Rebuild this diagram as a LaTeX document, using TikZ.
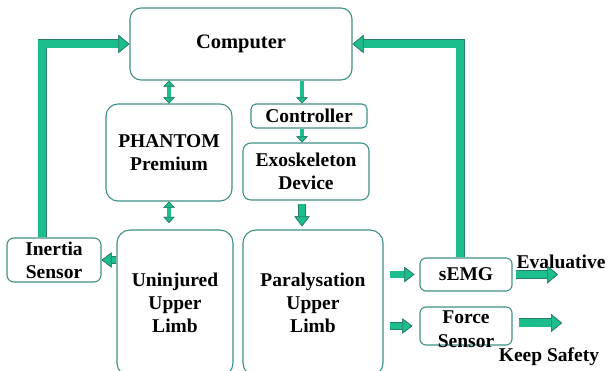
\documentclass[tikz,border=0pt]{standalone}
\usepackage{fontspec}
\setmainfont{Liberation Serif}
\usetikzlibrary{arrows.meta}

\definecolor{boxline}{HTML}{3F9086}
\definecolor{arrowfill}{HTML}{1DBE8E}
\definecolor{arrowline}{HTML}{2B7C6B}

\begin{document}
\begin{tikzpicture}[x=1pt, y=-1pt]
\tikzstyle{box}=[rectangle, draw=boxline, line width=1.1pt, rounded corners=8pt, align=center, inner sep=0pt, font=\fontsize{19.5}{23}\selectfont\bfseries]
\tikzstyle{txt}=[align=center, inner sep=0pt, font=\fontsize{19.5}{23}\selectfont\bfseries]
\tikzstyle{fat}=[line width=7.6pt, draw=arrowfill, -{Triangle[length=11pt, width=18pt, line width=.7pt, color=arrowline, fill=arrowfill]}, preaction={draw=arrowline, line width=9pt, -{Triangle[length=11pt, width=18pt, line width=.7pt]}}]
\tikzstyle{mid}=[line width=6.2pt, draw=arrowfill, -{Triangle[length=10pt, width=15pt, line width=.7pt, color=arrowline, fill=arrowfill]}, preaction={draw=arrowline, line width=7.6pt, -{Triangle[length=10pt, width=15pt, line width=.7pt]}}]
\tikzstyle{slim}=[line width=3.4pt, draw=arrowfill, -{Triangle[length=6pt, width=11pt, line width=.6pt, color=arrowline, fill=arrowfill]}, preaction={draw=arrowline, line width=4.6pt, -{Triangle[length=6pt, width=11pt, line width=.6pt]}}]
\tikzstyle{slimboth}=[line width=3.4pt, draw=arrowfill, {Triangle[length=6pt, width=11pt, line width=.6pt, color=arrowline, fill=arrowfill]}-{Triangle[length=6pt, width=11pt, line width=.6pt, color=arrowline, fill=arrowfill]}, preaction={draw=arrowline, line width=4.6pt, {Triangle[length=6pt, width=11pt, line width=.6pt]}-{Triangle[length=6pt, width=11pt, line width=.6pt]}}]

\useasboundingbox (0,0) rectangle (608,371);
\clip (0,0) rectangle (608,371);

% blocks
\node[box, minimum width=222pt, minimum height=72pt, rounded corners=11pt, font=\fontsize{20.5}{24}\selectfont\bfseries] (Comp) at (241,44) {Computer};
\node[box, minimum width=126pt, minimum height=97pt, rounded corners=12pt] (Phan) at (169,152.5) {PHANTOM\\Premium};
\node[box, minimum width=116pt, minimum height=24pt, rounded corners=5pt] (Ctrl) at (309,116) {Controller};
\node[box, minimum width=126pt, minimum height=57pt, rounded corners=8pt] (Exo) at (306,171.5) {Exoskeleton\\Device};
\node[box, minimum width=116pt, minimum height=146pt, rounded corners=13pt] (Unin) at (175,303) {Uninjured\\Upper\\Limb};
\node[box, minimum width=140pt, minimum height=146pt, rounded corners=13pt] (Para) at (313,303) {Paralysation\\Upper\\Limb};
\node[box, minimum width=94pt, minimum height=44pt, rounded corners=7pt] (Inertia) at (54,260) {Inertia\\Sensor};
\node[box, minimum width=92pt, minimum height=33pt, rounded corners=6pt] (sEMG) at (466,274.5) {sEMG};
\node[box, minimum width=92pt, minimum height=38pt, rounded corners=6pt] (Force) at (466,326) {};
\node[txt, font=\fontsize{19.5}{24}\selectfont\bfseries] (ForceTxt) at (466,329) {Force\\Sensor};
\node[txt] (Eval) at (561,262) {Evaluative};
\node[txt] (Keep) at (549,357) {Keep Safety};

% ends of the open arrows
\coordinate (CtrlIn) at ([xshift=-7pt]Ctrl.north);
\coordinate (LUp) at ([xshift=-12pt]Inertia.north);
\coordinate (RUp) at ([xshift=-6pt]sEMG.north);
\coordinate (PhanDown) at (169,223);
\coordinate (EvalEnd) at (558,274.5);
\coordinate (KeepEnd) at (562,323);

% links
\draw[slimboth] (Phan.north |- Comp.south) -- (Phan.north);
\draw[slimboth] (Phan.south) -- (PhanDown);
\draw[slim] (CtrlIn |- Comp.south) -- (CtrlIn);
\draw[slim] (CtrlIn |- Ctrl.south) -- (CtrlIn |- Exo.north);
\draw[mid, shorten <=3pt, shorten >=3pt] (CtrlIn |- Exo.south) -- (CtrlIn |- Para.north);
\draw[mid] (Inertia.east -| Unin.west) -- (Inertia.east);
\draw[mid, shorten <=6pt, shorten >=5pt] (sEMG.west -| Para.east) -- (sEMG.west);
\draw[mid, shorten <=6pt, shorten >=7pt] (Force.west -| Para.east) -- (Force.west);
\draw[fat, shorten <=3pt] (sEMG.east) -- (EvalEnd);
\draw[fat, shorten <=6pt] (Force.east |- KeepEnd) -- (KeepEnd);

% feedback to the computer
\draw[fat] (LUp) |- (Comp.west);
\draw[fat] (RUp) |- (Comp.east);
\end{tikzpicture}
\end{document}
